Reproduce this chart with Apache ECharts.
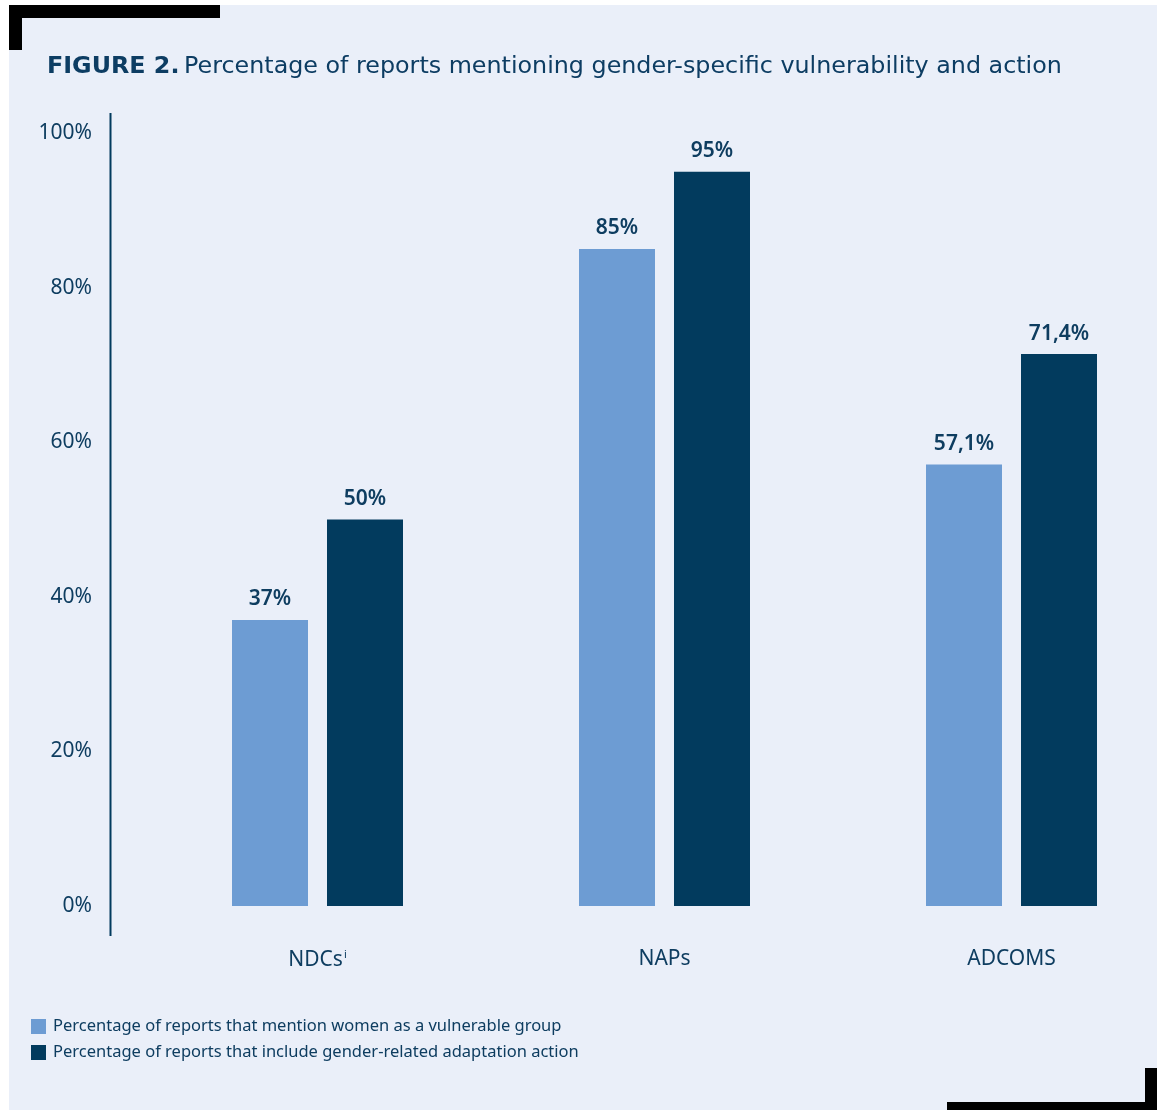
<!DOCTYPE html>
<html lang="en">

<head>
    <meta charset="UTF-8">
    <title>Figure 2 - gender-specific vulnerability and action</title>
    <script src="https://cdn.jsdelivr.net/npm/echarts@6/dist/echarts.min.js"></script>
    <style>
        body {
            margin: 0;
            padding: 0;
            background: #ffffff;
        }

        #panel {
            position: absolute;
            left: 9px;
            top: 5px;
            width: 1148px;
            height: 1105px;
            background: #eaeff9;
        }

        #chart {
            position: absolute;
            left: 0;
            top: 0;
            width: 1157px;
            height: 1110px;
        }
    </style>
</head>

<body>
    <div id="panel"></div>
    <div id="chart"></div>

    <script>
        // data
        const categories = ['NDCs', 'NAPs', 'ADCOMS'];
        const womenVulnerable = [37, 85, 57.1];
        const genderAction = [50, 95, 71.4];
        const seriesNames = [
            'Percentage of reports that mention women as a vulnerable group',
            'Percentage of reports that include gender-related adaptation action'
        ];
        const yTicks = [0, 20, 40, 60, 80, 100];

        const textColor = '#0e3d60';
        const lightBlue = '#6d9cd3';
        const darkBlue = '#023b5e';
        const fontName = '"Noto Sans", "Open Sans", sans-serif';
        const titleFont = '"DejaVu Sans", "Noto Sans", sans-serif';

        const chart = echarts.init(document.getElementById('chart'));

        const fmtPct = v => String(v).replace('.', ',') + '%';

        const barLabel = {
            show: true,
            position: 'top',
            distance: 10,
            fontSize: 21,
            fontWeight: 600,
            color: textColor,
            formatter: p => fmtPct(p.value)
        };

        const option = {
            backgroundColor: 'transparent',
            textStyle: { fontFamily: fontName, color: textColor },
            title: {
                left: 42,
                top: 50,
                text: '{b|FIGURE 2.} {r|Percentage of reports mentioning gender-specific vulnerability and action}',
                textStyle: {
                    rich: {
                        b: { fontSize: 23.8, fontWeight: 'bold', color: '#0d3d63', fontFamily: titleFont },
                        r: { fontSize: 23.8, fontWeight: 400, color: '#0d3d63', fontFamily: titleFont }
                    }
                }
            },
            legend: {
                orient: 'vertical',
                left: 26,
                top: 1013,
                itemWidth: 15,
                itemHeight: 15,
                itemGap: 9,
                icon: 'rect',
                data: seriesNames,
                textStyle: { fontSize: 16.5, color: textColor, fontFamily: fontName, padding: [0, 0, 0, 2] }
            },
            grid: {
                left: 317.5,
                top: 133,
                width: 694,
                height: 773
            },
            xAxis: {
                type: 'category',
                data: categories,
                boundaryGap: false,
                axisLine: { show: false },
                axisTick: { show: false },
                axisLabel: {
                    margin: 43,
                    fontSize: 21,
                    color: textColor,
                    formatter: v => v === 'NDCs' ? '{n|NDCs}{s|i}' : v,
                    rich: {
                        n: { fontSize: 21, color: textColor },
                        s: { fontSize: 11, color: textColor, verticalAlign: 'top', padding: [0, 0, 12, 1] }
                    }
                }
            },
            yAxis: {
                type: 'value',
                min: yTicks[0],
                max: yTicks[yTicks.length - 1],
                interval: 20,
                offset: 207.5,
                axisLine: { show: false },
                axisTick: { show: false },
                splitLine: { show: false },
                axisLabel: {
                    margin: 18,
                    fontSize: 21,
                    color: textColor,
                    formatter: '{value}%'
                }
            },
            series: [
                {
                    name: seriesNames[0],
                    type: 'bar',
                    data: womenVulnerable,
                    barWidth: 76,
                    barGap: '25%',
                    itemStyle: { color: lightBlue },
                    label: barLabel
                },
                {
                    name: seriesNames[1],
                    type: 'bar',
                    data: genderAction,
                    barWidth: 76,
                    barGap: '25%',
                    itemStyle: { color: darkBlue },
                    label: barLabel
                }
            ],
            graphic: [
                // vertical axis line
                { type: 'line', shape: { x1: 110.5, y1: 113, x2: 110.5, y2: 936 }, style: { stroke: '#023b5e', lineWidth: 2 } },
                // corner brackets
                { type: 'rect', shape: { x: 9, y: 5, width: 211, height: 13 }, style: { fill: '#000' } },
                { type: 'rect', shape: { x: 9, y: 5, width: 13, height: 45 }, style: { fill: '#000' } },
                { type: 'rect', shape: { x: 947, y: 1102, width: 210, height: 8 }, style: { fill: '#000' } },
                { type: 'rect', shape: { x: 1145, y: 1068, width: 12, height: 42 }, style: { fill: '#000' } }
            ]
        };

        chart.setOption(option);
    </script>
</body>

</html>
